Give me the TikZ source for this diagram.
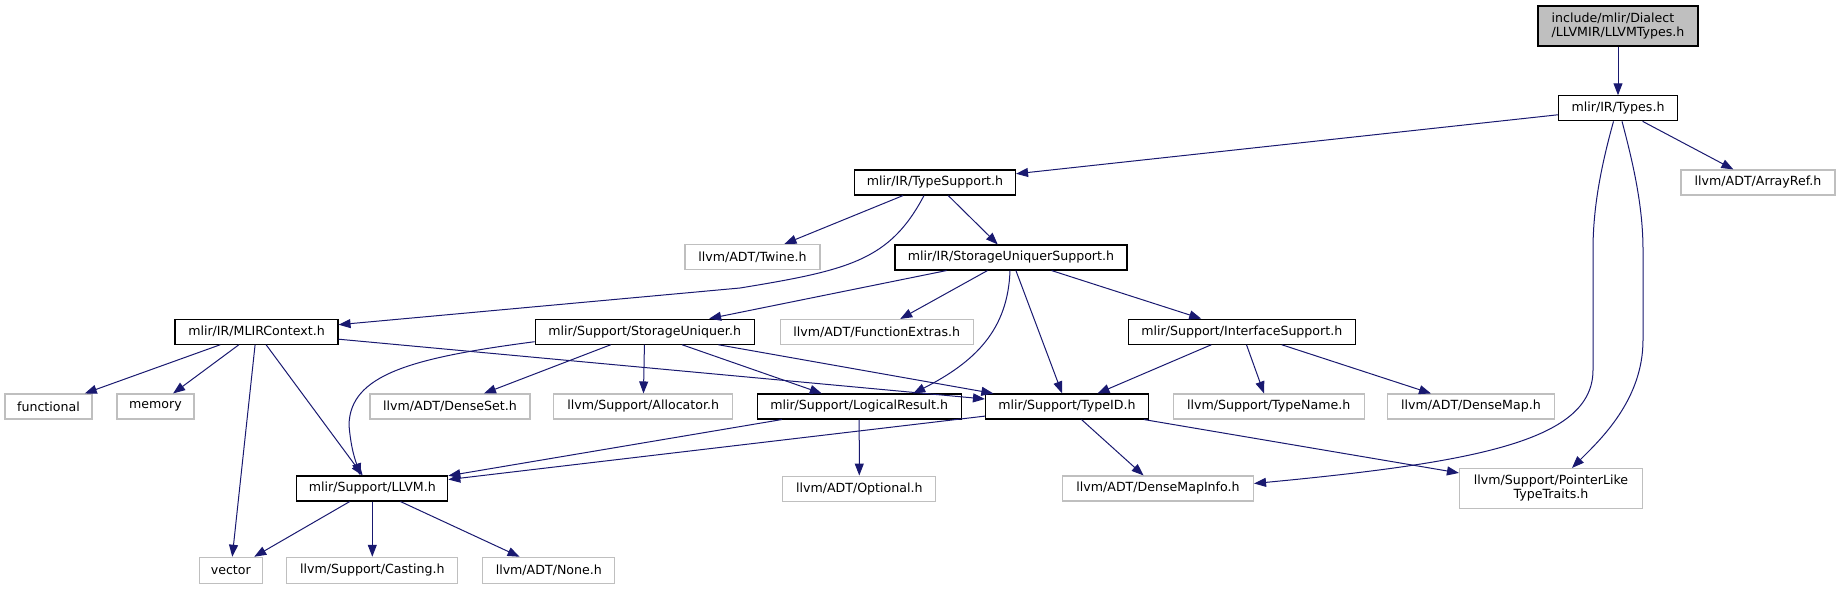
\documentclass[tikz,border=0pt]{standalone}
\usepackage{fontspec}
\setmainfont{DejaVu Sans}
\usepackage{tikz}
\usetikzlibrary{arrows.meta,calc}
\definecolor{edgeblue}{HTML}{191970}
\definecolor{extgray}{HTML}{BFBFBF}

\begin{document}
\begin{tikzpicture}[x=1pt,y=-1pt,
  font=\fontsize{12.6}{14}\selectfont,
  hdr/.style={draw=black,line width=1.1pt,inner sep=0pt,minimum height=25,align=center},
  ext/.style={draw=extgray,line width=1.1pt,inner sep=0pt,minimum height=25,align=center},
  dep/.style={draw=edgeblue,line width=1pt,-{Triangle[length=12pt,width=9pt]}}]
\useasboundingbox (0,0) rectangle (1840,589);

% headers
\node[hdr,fill=extgray,minimum width=160,minimum height=40,align=left] (llvmtypes) at (1618,26) {include/mlir/Dialect\\/LLVMIR/LLVMTypes.h};
\node[hdr,minimum width=119] (types) at (1618,108.3) {mlir/IR/Types.h};
\node[ext,minimum width=154] (arrayref) at (1758,182.5) {llvm/ADT/ArrayRef.h};
\node[hdr,minimum width=161] (typesupport) at (935,182.5) {mlir/IR/TypeSupport.h};
\node[ext,minimum width=135] (twine) at (752.5,257) {llvm/ADT/Twine.h};
\node[hdr,minimum width=232] (susupport) at (1011,257.5) {mlir/IR/StorageUniquerSupport.h};
\node[hdr,minimum width=163] (mlircontext) at (256.5,331.7) {mlir/IR/MLIRContext.h};
\node[hdr,minimum width=219] (suniquer) at (644.7,331.7) {mlir/Support/StorageUniquer.h};
\node[ext,minimum width=193] (funcextras) at (876.7,332) {llvm/ADT/FunctionExtras.h};
\node[hdr,minimum width=227] (ifacesupport) at (1241.8,331.7) {mlir/Support/InterfaceSupport.h};
\node[ext,minimum width=87] (functional) at (48.5,406.5) {functional};
\node[ext,minimum width=77] (memory) at (155.5,406.5) {memory};
\node[ext,minimum width=160] (denseset) at (450,406.5) {llvm/ADT/DenseSet.h};
\node[ext,minimum width=179] (allocator) at (643.2,406.5) {llvm/Support/Allocator.h};
\node[hdr,minimum width=204] (logicalresult) at (859.2,406.5) {mlir/Support/LogicalResult.h};
\node[hdr,minimum width=163] (typeid) at (1067,406.5) {mlir/Support/TypeID.h};
\node[ext,minimum width=191] (typename) at (1268.7,406.5) {llvm/Support/TypeName.h};
\node[ext,minimum width=167] (densemap) at (1471,406.5) {llvm/ADT/DenseMap.h};
\node[hdr,minimum width=151] (llvmh) at (372.3,488.5) {mlir/Support/LLVM.h};
\node[ext,minimum width=153] (optional) at (859.3,488.6) {llvm/ADT/Optional.h};
\node[ext,minimum width=191] (densemapinfo) at (1158,488.5) {llvm/ADT/DenseMapInfo.h};
\node[ext,minimum width=183,minimum height=40] (pointerlike) at (1551,488.5) {llvm/Support/PointerLike\\TypeTraits.h};
\node[ext,minimum width=63,minimum height=26] (vector) at (230.8,570.3) {vector};
\node[ext,minimum width=171,minimum height=26] (casting) at (372.3,570.3) {llvm/Support/Casting.h};
\node[ext,minimum width=132,minimum height=26] (none) at (548.8,570.3) {llvm/ADT/None.h};

% includes
\draw[dep] (llvmtypes) -- (types);
\draw[dep] (types) -- (typesupport);
\draw[dep] (types) -- (arrayref);
\draw[dep] ([xshift=-4.5pt]types.south) .. controls (1600,170) and (1593,210) .. (1593,250) -- (1593,370)
  .. controls (1593,440) and (1480,462) .. ([yshift=5pt]densemapinfo.east);
\draw[dep] ([xshift=4pt]types.south) .. controls (1635,170) and (1643,210) .. (1643,250) -- (1643,340)
  .. controls (1643,400) and (1600,440) .. ([xshift=21pt]pointerlike.north);
\draw[dep] (typesupport) -- (twine);
\draw[dep] (typesupport) -- (susupport);
\draw[dep] ([xshift=-11pt]typesupport.south) .. controls (890,260) and (850,270) .. (740,288)
  -- ([yshift=7pt]mlircontext.east);
\draw[dep] (susupport) -- (suniquer);
\draw[dep] (susupport) -- (funcextras);
\draw[dep] ([xshift=-1pt]susupport.south) .. controls (1008,330) and (975,362) .. ([xshift=54pt]logicalresult.north);
\draw[dep] (susupport) -- (typeid);
\draw[dep] (susupport) -- (ifacesupport);
\draw[dep] (mlircontext) -- (functional);
\draw[dep] (mlircontext) -- (memory);
\draw[dep] (mlircontext) -- (vector);
\draw[dep] (mlircontext) -- (llvmh);
\draw[dep] (mlircontext) -- (typeid);
\draw[dep] ([yshift=-10pt]suniquer.west) .. controls (410,358) and (350,375) .. (349,425)
  .. controls (351,450) and (356,462) .. ([xshift=-12pt]llvmh.north);
\draw[dep] (suniquer) -- (denseset);
\draw[dep] (suniquer) -- (allocator);
\draw[dep] (suniquer) -- (logicalresult);
\draw[dep] (suniquer) -- (typeid);
\draw[dep] (ifacesupport) -- (typeid);
\draw[dep] (ifacesupport) -- (typename);
\draw[dep] (ifacesupport) -- (densemap);
\draw[dep] (logicalresult) -- (llvmh);
\draw[dep] (logicalresult) -- (optional);
\draw[dep] (typeid) -- (llvmh);
\draw[dep] (typeid) -- (densemapinfo);
\draw[dep] (typeid) -- (pointerlike);
\draw[dep] (llvmh) -- (vector);
\draw[dep] (llvmh) -- (casting);
\draw[dep] (llvmh) -- (none);
\end{tikzpicture}
\end{document}
